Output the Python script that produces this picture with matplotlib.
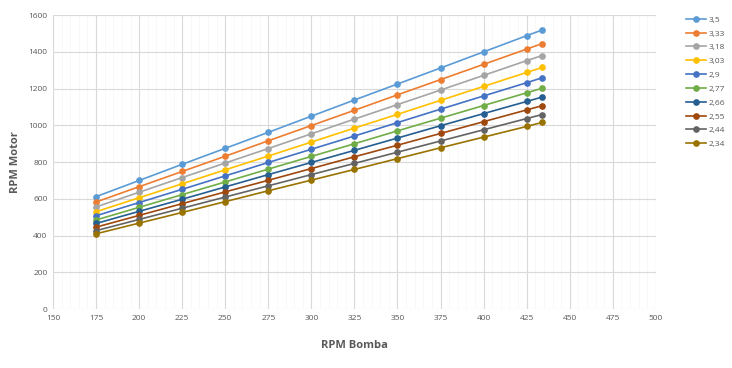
import matplotlib.pyplot as plt
from matplotlib.ticker import MultipleLocator

rpm_bomba = [175, 200, 225, 250, 275, 300, 325, 350, 375, 400, 425, 434]

labels = ["3,5", "3,33", "3,18", "3,03", "2,9", "2,77", "2,66", "2,55", "2,44", "2,34"]

r_350 = [612, 700, 788, 875, 962, 1050, 1138, 1225, 1312, 1400, 1488, 1519]
r_333 = [583, 666, 749, 832, 916, 999, 1082, 1166, 1249, 1332, 1415, 1445]
r_318 = [556, 636, 716, 795, 874, 954, 1034, 1113, 1192, 1272, 1352, 1380]
r_303 = [530, 606, 682, 758, 833, 909, 985, 1060, 1136, 1212, 1288, 1315]
r_290 = [508, 580, 652, 725, 798, 870, 942, 1015, 1088, 1160, 1232, 1259]
r_277 = [485, 554, 623, 692, 762, 831, 900, 970, 1039, 1108, 1177, 1202]
r_266 = [466, 532, 598, 665, 732, 798, 864, 931, 998, 1064, 1130, 1154]
r_255 = [446, 510, 574, 638, 701, 765, 829, 892, 956, 1020, 1084, 1107]
r_244 = [427, 488, 549, 610, 671, 732, 793, 854, 915, 976, 1037, 1059]
r_234 = [410, 468, 526, 585, 644, 702, 760, 819, 878, 936, 994, 1016]

series = [r_350, r_333, r_318, r_303, r_290, r_277, r_266, r_255, r_244, r_234]
colors = ["#5B9BD5", "#ED7D31", "#A5A5A5", "#FFC000", "#4472C4",
          "#70AD47", "#255E91", "#9E480E", "#636363", "#997300"]

plt.rcParams['font.family'] = ['Open Sans', 'DejaVu Sans']

fig = plt.figure(figsize=(7.32, 3.68), dpi=100)
ax = fig.add_axes([0.0724, 0.160, 0.8236, 0.799])

for vals, lab, c in zip(series, labels, colors):
    ax.plot(rpm_bomba, vals, color=c, marker='o', markersize=3.8, linewidth=1.2, label=lab)

ax.set_xlim(150, 500)
ax.set_ylim(0, 1600)
ax.xaxis.set_major_locator(MultipleLocator(25))
ax.xaxis.set_minor_locator(MultipleLocator(5))
ax.yaxis.set_major_locator(MultipleLocator(200))

ax.grid(which='major', color='#D9D9D9', linewidth=0.8)
ax.grid(which='minor', axis='x', color='#F5F5F5', linewidth=0.5)
ax.set_axisbelow(True)
for s in ax.spines.values():
    s.set_visible(False)
ax.tick_params(which='both', length=0, labelsize=6, labelcolor='#595959', pad=4)

ax.set_xlabel("RPM Bomba", fontsize=8, fontweight='bold', color='#595959', labelpad=13)
ax.set_ylabel("RPM Motor", fontsize=8, fontweight='bold', color='#595959', labelpad=5)

fig.legend(loc='upper left', bbox_to_anchor=(0.932, 0.966), frameon=False,
           fontsize=6, labelcolor='#595959', handlelength=2.5, handletextpad=0.25,
           labelspacing=0.72, borderaxespad=0)

fig.savefig("out.png", dpi=100)
